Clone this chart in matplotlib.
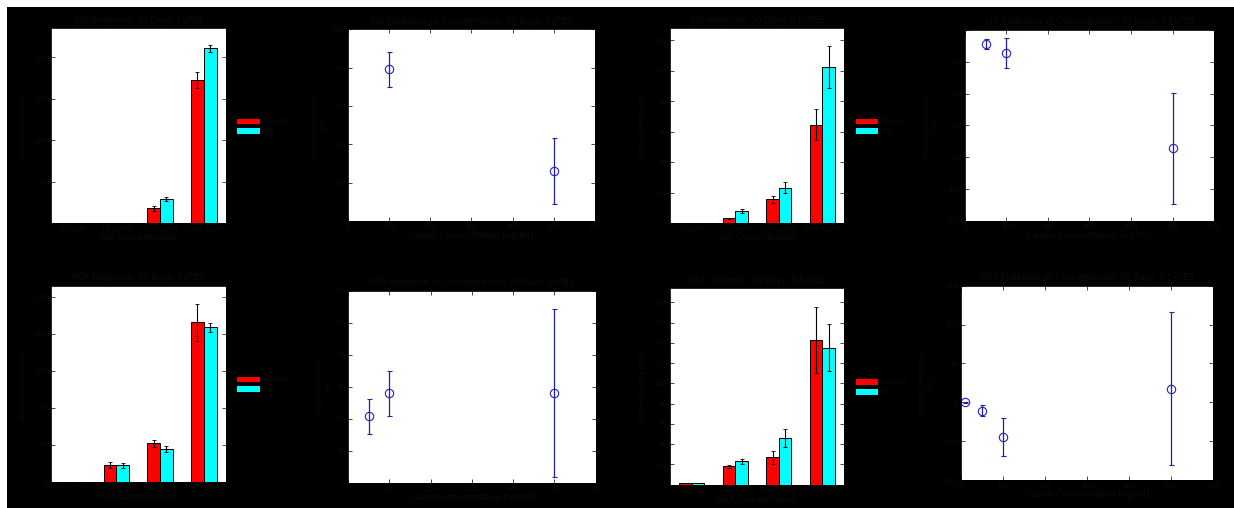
import numpy as np
import matplotlib
matplotlib.use("Agg")
import matplotlib.pyplot as plt
from matplotlib.patches import Rectangle

# bar panels: response per concentration, blocked vs PBS
categories = ["0 ug/ml", "10 ug/ml", "100 ug/ml", "1000 ug/ml"]
series_names = ["Blocked", "PBS"]

igg_pbs_blocked = [0, 0, 18, 172.5]
igg_pbs_blocked_err = [0, 0, 3, 10]
igg_pbs_pbs = [0, 0, 29, 211]
igg_pbs_pbs_err = [0, 0, 2.5, 4]

igg_half_blocked = [0, 3.3, 15.8, 64.6]
igg_half_blocked_err = [0, 0.5, 2.2, 10.2]
igg_half_pbs = [0, 8.1, 23.4, 102.7]
igg_half_pbs_err = [0, 1.5, 3.7, 13.9]

hsa_pbs_blocked = [0, 23, 51.8, 215.8]
hsa_pbs_blocked_err = [0, 4, 4.5, 25]
hsa_pbs_pbs = [0, 22, 44.1, 208.6]
hsa_pbs_pbs_err = [0, 3, 3.6, 6]

hsa_half_blocked = [1.3, 18.4, 27.0, 142.8]
hsa_half_blocked_err = [0, 1.5, 6.6, 32.4]
hsa_half_pbs = [2.0, 23.0, 46.1, 135.5]
hsa_half_pbs_err = [0, 2.5, 9.0, 23.0]

# inhibition vs casein concentration
igg_pbs_conc = [100, 500]
igg_pbs_inhib = [79.1, 26.1]
igg_pbs_inhib_err = [9.1, 17.4]

igg_half_conc = [50, 100, 500]
igg_half_inhib = [-8.8, -14.7, -74.4]
igg_half_inhib_err = [3.3, 9.4, 34.8]

hsa_pbs_conc = [50, 100, 500]
hsa_pbs_inhib = [20.8, 28.0, 28.0]
hsa_pbs_inhib_err = [5.4, 7.1, 26.2]

hsa_half_conc = [10, 50, 100, 500]
hsa_half_inhib = [0, -10.7, -45, 17.6]
hsa_half_inhib_err = [1, 7, 24.7, 98]

TXT = "#0c0c0c"
FS = 5

plt.rcParams["font.family"] = "DejaVu Sans"
plt.rcParams["font.size"] = FS

fig = plt.figure(figsize=(12.34, 5.08), dpi=100, facecolor="white")
fig.patches.append(Rectangle((7 / 1234, 0), 1, 1 - 7 / 508, transform=fig.transFigure,
                             facecolor="black", edgecolor="none", zorder=-10))


def style_axes(ax):
    ax.set_facecolor("white")
    for s in ax.spines.values():
        s.set_color("black")
        s.set_linewidth(0.6)
    ax.tick_params(direction="in", top=True, right=True, length=3, width=0.5,
                   colors="black", labelcolor=TXT, labelsize=FS, pad=2)


def bar_panel(rect, title, xlabel, ylabel, b, be, p, pe, ylim, yticks):
    ax = fig.add_axes(rect)
    style_axes(ax)
    x = np.arange(1, len(categories) + 1)
    w = 0.29
    ax.bar(x - w / 2, b, w, yerr=be, color="#ff0000", edgecolor="black", linewidth=0.7,
           error_kw=dict(ecolor="black", elinewidth=0.8, capsize=1.5, capthick=0.6), label=series_names[0])
    ax.bar(x + w / 2, p, w, yerr=pe, color="#00ffff", edgecolor="black", linewidth=0.7,
           error_kw=dict(ecolor="black", elinewidth=0.8, capsize=1.5, capthick=0.6), label=series_names[1])
    ax.set_xlim(0.5, 4.5)
    ax.set_ylim(*ylim)
    ax.set_yticks(yticks)
    ax.set_xticks(x)
    ax.set_xticklabels(categories)
    ax.tick_params(axis="x", length=0)
    ax.set_title(title, color=TXT, fontsize=FS + 1, pad=4)
    ax.set_xlabel(xlabel, color=TXT, fontsize=FS + 1, labelpad=1)
    ax.set_ylabel(ylabel, color=TXT, fontsize=FS, labelpad=6)
    leg = ax.legend(loc="center left", bbox_to_anchor=(1.04, 0.5), frameon=False,
                    fontsize=FS, handlelength=3.4, handleheight=1.1, labelspacing=0.4,
                    handletextpad=0.2, borderpad=0)
    for t in leg.get_texts():
        t.set_color(TXT)
    return ax


def inhib_panel(rect, title, conc, val, err, ylim, yticks):
    ax = fig.add_axes(rect)
    style_axes(ax)
    ax.errorbar(conc, val, yerr=err, fmt="o", mfc="none", mec="#2020c8", ms=6, mew=0.8,
                ecolor="#2020a0", elinewidth=0.9, capsize=1.8, capthick=0.8)
    ax.set_xlim(0, 600)
    ax.set_xticks(np.arange(0, 601, 100))
    ax.set_ylim(*ylim)
    ax.set_yticks(yticks)
    ax.set_title(title, color=TXT, fontsize=FS + 1, pad=4)
    ax.set_xlabel("Casein Concentration [ug/ml]", color=TXT, fontsize=FS + 1, labelpad=1)
    ax.set_ylabel("Percent Inhibition\n[%]", color=TXT, fontsize=FS, labelpad=4)
    return ax


bar_panel([0.0411, 0.5604, 0.1418, 0.3839], "IgG Response, 30 Days, 1xPBS", "IgG Concentration",
          "Signal Change [mV]", igg_pbs_blocked, igg_pbs_blocked_err, igg_pbs_pbs, igg_pbs_pbs_err,
          (0, 235), np.arange(0, 201, 50))
inhib_panel([0.2818, 0.5650, 0.2004, 0.3774], "IgG Inhibition vs Concentration, 30 Days, 1xPBS",
            igg_pbs_conc, igg_pbs_inhib, igg_pbs_inhib_err, (0, 100), np.arange(0, 101, 20))
bar_panel([0.5429, 0.5604, 0.1412, 0.3839], "IgG response, 30 Days, 0.5xPBS", "IgG Concentration",
          "Signal Change [mV]", igg_half_blocked, igg_half_blocked_err, igg_half_pbs, igg_half_pbs_err,
          (0, 128), np.arange(0, 121, 20))
inhib_panel([0.7820, 0.5650, 0.2018, 0.3760], "IgG Inhibition vs Concentration, 30 Days, 0.5xPBS",
            igg_half_conc, igg_half_inhib, igg_half_inhib_err, (-120, 0), np.arange(-120, 1, 20))

bar_panel([0.0411, 0.0518, 0.1418, 0.3858], "HSA Response, 30 Days, 1xPBS", "HSA Concentration",
          "Signal Change [mV]", hsa_pbs_blocked, hsa_pbs_blocked_err, hsa_pbs_pbs, hsa_pbs_pbs_err,
          (0, 265), np.arange(0, 251, 50))
inhib_panel([0.2822, 0.0492, 0.2005, 0.3785], "HSA Inhibition vs Concentration, 30 Days, 1xPBS",
            hsa_pbs_conc, hsa_pbs_inhib, hsa_pbs_inhib_err, (0, 60), np.arange(0, 61, 10))
bar_panel([0.5429, 0.0459, 0.1412, 0.3866], "HSA response, 30 Days, 0.5xPBS", "HSA Concentration",
          "Signal Change [mV]", hsa_half_blocked, hsa_half_blocked_err, hsa_half_pbs, hsa_half_pbs_err,
          (0, 194), np.arange(0, 181, 20))
inhib_panel([0.7785, 0.0551, 0.2047, 0.3825], "HSA Inhibition vs Concentration, 30 Days, 0.5xPBS",
            hsa_half_conc, hsa_half_inhib, hsa_half_inhib_err, (-100, 150), np.arange(-100, 151, 50))

fig.savefig("out.png", dpi=100, facecolor=fig.get_facecolor())
